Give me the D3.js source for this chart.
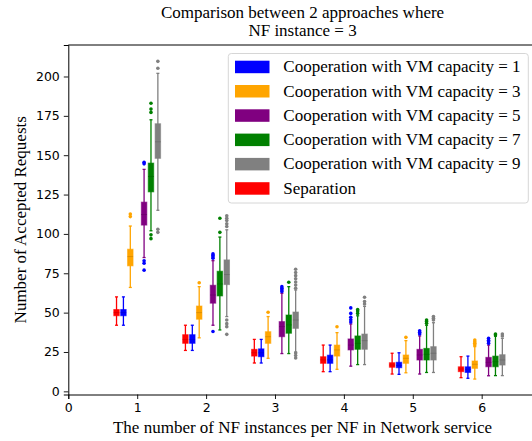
<!DOCTYPE html>
<html>
<head>
<meta charset="utf-8">
<script src="https://cdnjs.cloudflare.com/ajax/libs/d3/7.8.5/d3.min.js"></script>
<style>
  body { margin: 0; background: #fff; }
  .tick text { font-family: "DejaVu Sans", sans-serif; font-size: 12.5px; fill: #000; }
  .serif { font-family: "Liberation Serif", "Times New Roman", serif; font-size: 17px; fill: #000; }
</style>
</head>
<body>
<div class="chart"></div>
<script>
// Groups on the x axis (NF instances per NF)
var groups = [1, 2, 3, 4, 5, 6];
var xTicks = [0, 1, 2, 3, 4, 5, 6];
var yTicks = [0, 25, 50, 75, 100, 125, 150, 175, 200];

// Series (drawing order) and their legend entries
var seriesNames = ["Separation", "Cooperation with VM capacity = 1", "Cooperation with VM capacity = 3",
  "Cooperation with VM capacity = 5", "Cooperation with VM capacity = 7", "Cooperation with VM capacity = 9"];
var seriesColors = ["red", "blue", "orange", "purple", "green", "gray"];
var fliersColors = ["red", "blue", "orange", "blue", "green", "gray"];
var seriesOffsets = [-0.3, -0.2, -0.1, 0.1, 0.2, 0.3];
var legendOrder = [1, 2, 3, 4, 5, 0];

// box stats per group: [whisker low, q1, median, q3, whisker high]
var separationStats = [[42, 48, 50, 52, 60], [26, 30.5, 33, 36, 42], [18, 22.4, 24.5, 26.7, 33],
  [12.5, 17.8, 20, 22, 29.4], [11, 15.3, 16.7, 18.2, 24.2], [8.7, 12.5, 14.2, 15.6, 22]];
var vm1Stats = [[42, 48, 50, 52, 60], [26, 30.5, 33, 36, 42], [18, 22, 24.5, 27, 33],
  [12.5, 17.8, 20, 23, 29.4], [10.8, 15, 16.5, 18.5, 24.5], [8.3, 12, 14, 15.6, 22.4]];
var vm3Stats = [[66, 79.7, 85.6, 90.3, 105], [34, 45.8, 50, 54.2, 66.5], [21, 30.5, 34.7, 37.9, 47.5],
  [14, 22.4, 26.3, 29.4, 37.3], [11.8, 17.8, 21, 23.1, 32.2], [7.8, 14.6, 17.2, 19.3, 28.4]];
var vm5Stats = [[85, 105.6, 112.3, 120.2, 141], [42, 56, 61.2, 67.4, 83], [24, 34.7, 41.1, 44.3, 62.3],
  [16, 26.3, 29.4, 33.3, 42.8], [11, 19.9, 23.1, 26.7, 35.2], [9.9, 15.6, 18.4, 21.6, 29.4]];
var vm7Stats = [[102, 126.7, 136.5, 145, 172.5], [39, 60.6, 68.2, 76.3, 98], [24, 36.9, 42.2, 48.5, 66.5],
  [17, 26.7, 30.5, 35.2, 48], [12, 19.9, 23.5, 27.3, 42], [10, 15.6, 18.8, 22.4, 35]];
var vm9Stats = [[115, 148, 158.5, 170, 202], [47.5, 67.8, 74.2, 83.5, 102.6], [25, 40, 45.3, 50.4, 64.4],
  [17, 26.7, 32.2, 36.4, 54], [12, 19.9, 24.2, 28.4, 43.6], [10, 16.7, 19.9, 23.3, 33.7]];

// outliers per group
var separationFliers = [[], [], [], [], [], []];
var vm1Fliers = [[], [], [], [], [], []];
var vm3Fliers = [[111, 112.7], [69], [50.2], [41], [34.3], [29.5, 30.5, 31.5, 32.6]];
var vm5Fliers = [[77, 81.4, 83, 144.5, 145.5], [38, 84.5, 85.5, 86.5, 87.3], [63.5, 64.5, 65.5, 66.5],
  [44, 45.5, 47, 49.5, 53], [36.5, 37.5, 38.5], [30.5, 31.5, 32.5, 33.7]];
var vm7Fliers = [[97, 99.4, 177.2, 179.3, 183], [101, 110], [69.3], [49.5, 51, 52], [43.2, 44.3, 45.3], [35.8, 36.4]];
var vm9Fliers = [[101, 103, 205.2, 209.6], [36.2, 41.1, 43, 45.3, 104.7, 106.5, 108.5, 110, 111.5],
  [21.2, 22.8, 24.4, 65.5, 67.5, 69.5, 71.5, 73.5, 75.5, 77.6], [55.5, 57, 59.8], [45.3, 46.5, 47.5], [35.2, 36.4]];

var allStats = [separationStats, vm1Stats, vm3Stats, vm5Stats, vm7Stats, vm9Stats];
var allFliers = [separationFliers, vm1Fliers, vm3Fliers, vm5Fliers, vm7Fliers, vm9Fliers];

var svgWidth = 532;
var svgHeight = 441;
var margin = { top: 45, left: 68.3 };
var width = 468.5;
var height = 349.5;

var svg = d3.select(".chart").append("svg")
  .attr("width", svgWidth)
  .attr("height", svgHeight);

var chart = svg.append("g")
  .attr("transform", "translate(" + margin.left + "," + margin.top + ")");

var xScale = d3.scaleLinear().domain([0, 6.8]).range([0, width]);
var yScale = d3.scaleLinear().domain([-2, 220]).range([height, 0]);

// axes
chart.append("g")
  .attr("transform", "translate(0," + height + ")")
  .call(d3.axisBottom(xScale).tickValues(xTicks).tickFormat(d3.format("d")).tickSizeOuter(0).tickSize(4.5).tickPadding(4));
chart.append("g")
  .call(d3.axisLeft(yScale).tickValues(yTicks).tickFormat(d3.format("d")).tickSizeOuter(0).tickSize(4.5).tickPadding(4));
chart.selectAll(".domain").attr("stroke", "#000").attr("stroke-width", 1);
chart.selectAll(".tick line").attr("stroke", "#000").attr("stroke-width", 0.9);

// top spine (no right spine visible in the picture)
chart.append("line")
  .attr("x1", 0).attr("x2", width)
  .attr("y1", 0).attr("y2", 0)
  .attr("stroke", "#000").attr("stroke-width", 1);

// boxes
var boxW = xScale(0.08) - xScale(0);
var capW = boxW * 0.55;

allStats.forEach(function(stats, s) {
  var color = seriesColors[s];
  var g = chart.append("g");
  stats.forEach(function(d, i) {
    var cx = xScale(groups[i] + seriesOffsets[s]);
    // whisker
    g.append("line")
      .attr("x1", cx).attr("x2", cx)
      .attr("y1", yScale(d[0])).attr("y2", yScale(d[4]))
      .attr("stroke", color).attr("stroke-width", 1.3);
    // caps
    [d[0], d[4]].forEach(function(v) {
      g.append("line")
        .attr("x1", cx - capW / 2).attr("x2", cx + capW / 2)
        .attr("y1", yScale(v)).attr("y2", yScale(v))
        .attr("stroke", color).attr("stroke-width", 1.3);
    });
    // box
    g.append("rect")
      .attr("x", cx - boxW / 2)
      .attr("y", yScale(d[3]))
      .attr("width", boxW)
      .attr("height", yScale(d[1]) - yScale(d[3]))
      .attr("fill", color)
      .attr("stroke", color).attr("stroke-opacity", 0.6).attr("stroke-width", 1);
    // median
    g.append("line")
      .attr("x1", cx - boxW / 2).attr("x2", cx + boxW / 2)
      .attr("y1", yScale(d[2])).attr("y2", yScale(d[2]))
      .attr("stroke", d3.color(color).darker(0.4)).attr("stroke-width", 1);
    // fliers
    allFliers[s][i].forEach(function(v) {
      g.append("circle")
        .attr("cx", cx).attr("cy", yScale(v))
        .attr("r", 1.8)
        .attr("fill", fliersColors[s]);
    });
  });
});

// legend
var legend = chart.append("g").attr("transform", "translate(" + (228.3 - margin.left) + "," + (53.5 - margin.top) + ")");
legend.append("rect")
  .attr("width", 300).attr("height", 149.5)
  .attr("rx", 3)
  .attr("fill", "#fff").attr("fill-opacity", 0.8)
  .attr("stroke", "#d6d6d6").attr("stroke-width", 1);
legendOrder.forEach(function(s, k) {
  var cy = 13.2 + k * 24.3;
  legend.append("rect")
    .attr("x", 6.7).attr("y", cy - 6)
    .attr("width", 34.5).attr("height", 12.5)
    .attr("fill", seriesColors[s]);
  legend.append("text")
    .attr("class", "serif")
    .attr("x", 55).attr("y", cy + 5.5)
    .text(seriesNames[s]);
});

// title
var title = svg.append("text").attr("class", "serif").attr("text-anchor", "middle");
title.append("tspan").attr("x", margin.left + width / 2).attr("y", 18).text("Comparison between 2 approaches where");
title.append("tspan").attr("x", margin.left + width / 2).attr("y", 36).text("NF instance = 3");

// axis labels
svg.append("text")
  .attr("class", "serif")
  .attr("text-anchor", "middle")
  .attr("x", margin.left + width / 2)
  .attr("y", 432.5)
  .text("The number of NF instances per NF in Network service");

svg.append("text")
  .attr("class", "serif")
  .attr("text-anchor", "middle")
  .attr("transform", "translate(26," + (margin.top + height / 2) + ") rotate(-90)")
  .text("Number of Accepted Requests");
</script>
</body>
</html>
